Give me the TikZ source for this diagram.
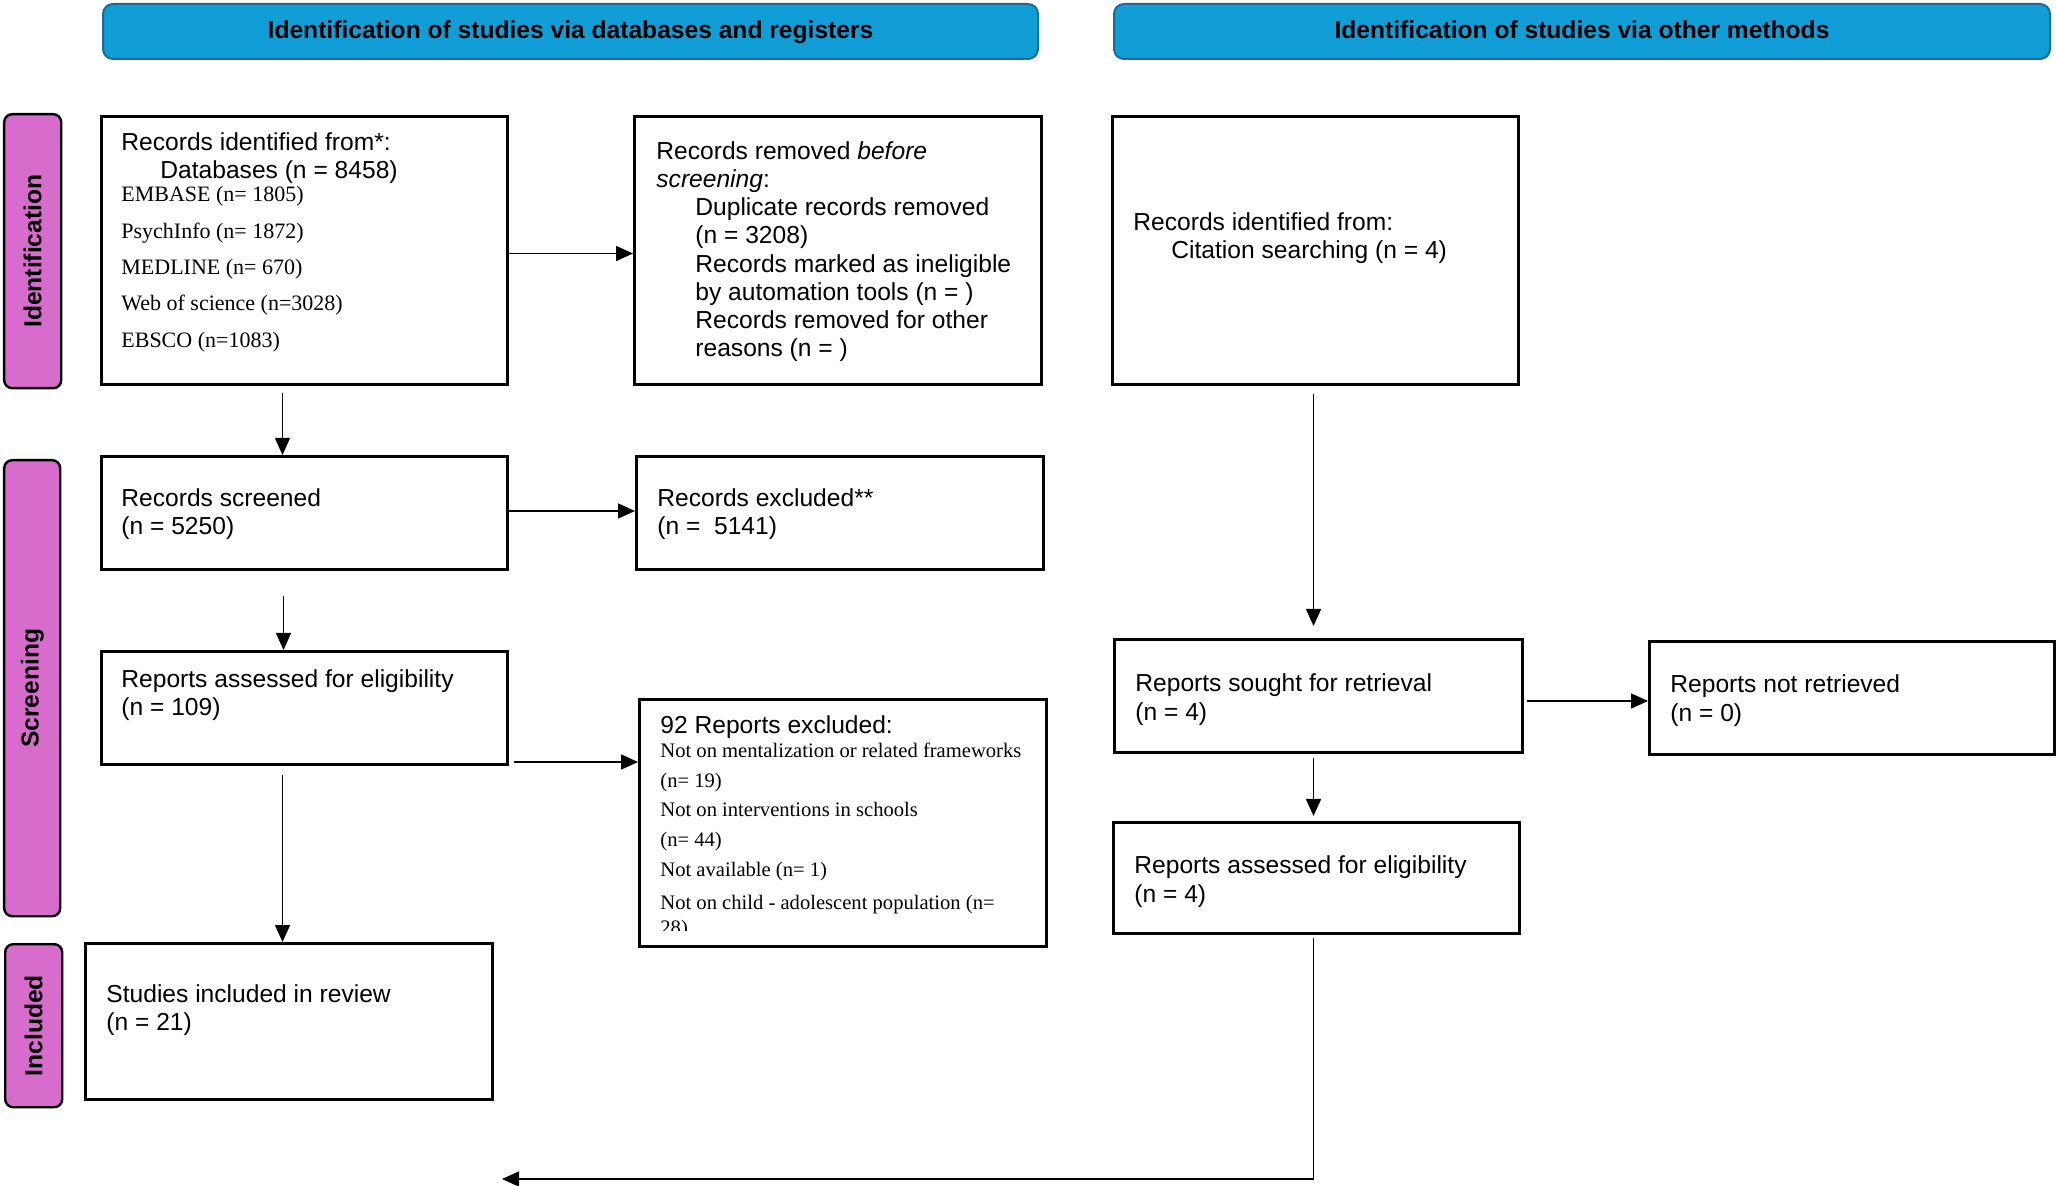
\documentclass[tikz,border=0pt]{standalone}
\usepackage{fontspec}
\setmainfont{Liberation Sans}
\newfontfamily\tms{Liberation Serif}
\usetikzlibrary{arrows.meta,calc}
\definecolor{hdrfill}{RGB}{17,158,214}
\definecolor{hdrdraw}{RGB}{22,110,150}
\definecolor{sidefill}{RGB}{216,108,204}
\begin{document}
\begin{tikzpicture}[x=0.5pt,y=-0.5pt,
  box/.style={draw=black, line width=1.5pt, fill=white, inner sep=0pt, anchor=north west},
  hdr/.style={draw=hdrdraw, line width=1pt, fill=hdrfill, rounded corners=5pt, inner sep=0pt, anchor=north west},
  side/.style={draw=black, line width=1.2pt, fill=sidefill, rounded corners=4pt, inner sep=0pt, anchor=north west},
  txt/.style={anchor=base west, inner sep=0pt, font=\fontsize{12.3}{14.4}\selectfont},
  stxt/.style={anchor=base west, inner sep=0pt, font=\tms\fontsize{11}{13}\selectfont},
  gtxt/.style={anchor=base west, inner sep=0pt, font=\tms\fontsize{10.3}{13}\selectfont},
  arr/.style={line width=0.75pt, -{Triangle[length=8.5pt,width=7.5pt]}},
  lbl/.style={font=\bfseries\fontsize{12.3}{14.4}\selectfont, inner sep=0pt},
]
\useasboundingbox (0,0) rectangle (2056,1186);

% headers
\node[hdr, minimum width=467.5pt, minimum height=27.5pt] (HL) at (102,3) {};
\node[hdr, minimum width=468pt, minimum height=27.5pt] (HR) at (1113,3) {};
\node[lbl, anchor=base] (hlt) at (HL.center |- 0,39) {Identification of studies via databases and registers};
\node[lbl, anchor=base] (hrt) at (HR.center |- 0,39) {Identification of studies via other methods};

% side labels
\node[side, minimum width=28.5pt, minimum height=137pt] (SI) at (3,113) {};
\node[side, minimum width=28pt, minimum height=228pt] (SS) at (3,459) {};
\node[side, minimum width=28.5pt, minimum height=81.5pt] (SN) at (4,943) {};
\node[lbl, rotate=90] (sit) at (SI.center) {Identification};
\node[lbl, rotate=90] (sst) at (SS.center) {Screening};
\node[lbl, rotate=90] (snt) at (SN.center) {Included};

% boxes
\node[box, minimum width=203pt, minimum height=134pt] (A) at (100,115) {};
\node[box, minimum width=203.5pt, minimum height=134pt] (B) at (633,115) {};
\node[box, minimum width=203pt, minimum height=134pt] (C) at (1111,115) {};
\node[box, minimum width=203pt, minimum height=56.5pt] (D) at (100,455) {};
\node[box, minimum width=203.5pt, minimum height=56.5pt] (E) at (635,455) {};
\node[box, minimum width=203pt, minimum height=56.5pt] (F) at (100,650) {};
\node[box, minimum width=203.5pt, minimum height=123.5pt] (G) at (638,698) {};
\node[box, minimum width=203.5pt, minimum height=78pt] (H) at (84,942) {};
\node[box, minimum width=204pt, minimum height=56.5pt] (I) at (1113,638) {};
\node[box, minimum width=202.5pt, minimum height=56.5pt] (J) at (1648,640) {};
\node[box, minimum width=203pt, minimum height=55.5pt] (K) at (1112,821) {};

% box A text
\node[txt] (a1) at (121,151) {Records identified from*:};
\node[txt] (a2) at (160,179) {Databases (n = 8458)};
\node[stxt] (a3) at (121,202) {EMBASE (n= 1805)};
\node[stxt] (a4) at (121,239) {PsychInfo (n= 1872)};
\node[stxt] (a5) at (121,275) {MEDLINE (n= 670)};
\node[stxt] (a6) at (121,311) {Web of science (n=3028)};
\node[stxt] (a7) at (121,348) {EBSCO (n=1083)};

% box B text
\node[txt] (b1) at (656,160) {Records removed \textit{before}};
\node[txt] (b2) at (656,188) {\textit{screening}:};
\node[txt] (b3) at (695,216) {Duplicate records removed};
\node[txt] (b4) at (695,244) {(n = 3208)};
\node[txt] (b5) at (695,273) {Records marked as ineligible};
\node[txt] (b6) at (695,301) {by automation tools (n = )};
\node[txt] (b7) at (695,329) {Records removed for other};
\node[txt] (b8) at (695,357) {reasons (n = )};

% box C text
\node[txt] (c1) at (1133,231) {Records identified from:};
\node[txt] (c2) at (1171,259) {Citation searching (n = 4)};

% box D, E, F text
\node[txt] (d1) at (121,507) {Records screened};
\node[txt] (d2) at (121,535) {(n = 5250)};
\node[txt] (e1) at (657,507) {Records excluded**};
\node[txt] (e2) at (657,535) {(n =\ \ 5141)};
\node[txt] (f1) at (121,688) {Reports assessed for eligibility};
\node[txt] (f2) at (121,716) {(n = 109)};

% box G text
\node[txt] (g1) at (660,734) {92 Reports excluded:};
\node[gtxt] (g2) at (660,758) {Not on mentalization or related frameworks};
\node[gtxt] (g3) at (660,788) {(n= 19)};
\node[gtxt] (g4) at (660,817) {Not on interventions in schools};
\node[gtxt] (g5) at (660,847) {(n= 44)};
\node[gtxt] (g6) at (660,877) {Not available (n= 1)};
\node[gtxt] (g7) at (660,909) {Not on child - adolescent population (n=};
\begin{scope}
\clip (640,700) rectangle (1043,930);
\node[gtxt] (g8) at (660,934) {28)};
\end{scope}

% box H, I, J, K text
\node[txt] (h1) at (106,1002) {Studies included in review};
\node[txt] (h2) at (106,1030) {(n = 21)};
\node[txt] (i1) at (1135,692) {Reports sought for retrieval};
\node[txt] (i2) at (1135,721) {(n = 4)};
\node[txt] (j1) at (1670,693) {Reports not retrieved};
\node[txt] (j2) at (1670,722) {(n = 0)};
\node[txt] (k1) at (1134,873) {Reports assessed for eligibility};
\node[txt] (k2) at (1134,902) {(n = 4)};

% connectors
\coordinate (ab) at ($(A.east)+(0,3)$);
\draw[arr] (ab) -- (ab -| B.west);
\coordinate (ad) at ($(A.south)+(-22,7)$);
\draw[arr] (ad) -- (ad |- D.north);
\coordinate (de) at ($(D.east)+(0,-2)$);
\draw[arr] (de) -- (de -| E.west);
\coordinate (df) at ($(D.south)+(-21,25)$);
\draw[arr] (df) -- (df |- F.north);
\coordinate (fg) at ($(F.south east)+(5,-4)$);
\draw[arr] (fg) -- (fg -| G.west);
\coordinate (fh) at ($(F.south)+(-22,9)$);
\draw[arr] (fh) -- (fh |- H.north);
\coordinate (ci) at ($(C.south)+(-2,8)$);
\draw[arr] (ci) -- ($(ci |- I.north)+(0,-12)$);
\coordinate (ij) at ($(I.east)+(3,5)$);
\draw[arr] (ij) -- (ij -| J.west);
\coordinate (ik) at ($(I.south)+(-5,4)$);
\draw[arr] (ik) -- ($(ik |- K.north)+(0,-5)$);
\coordinate (kb) at ($(K.south)+(-3,3)$);
\coordinate (kend) at (502,1179);
\draw[arr] (kb) |- (kend);
\end{tikzpicture}
\end{document}
